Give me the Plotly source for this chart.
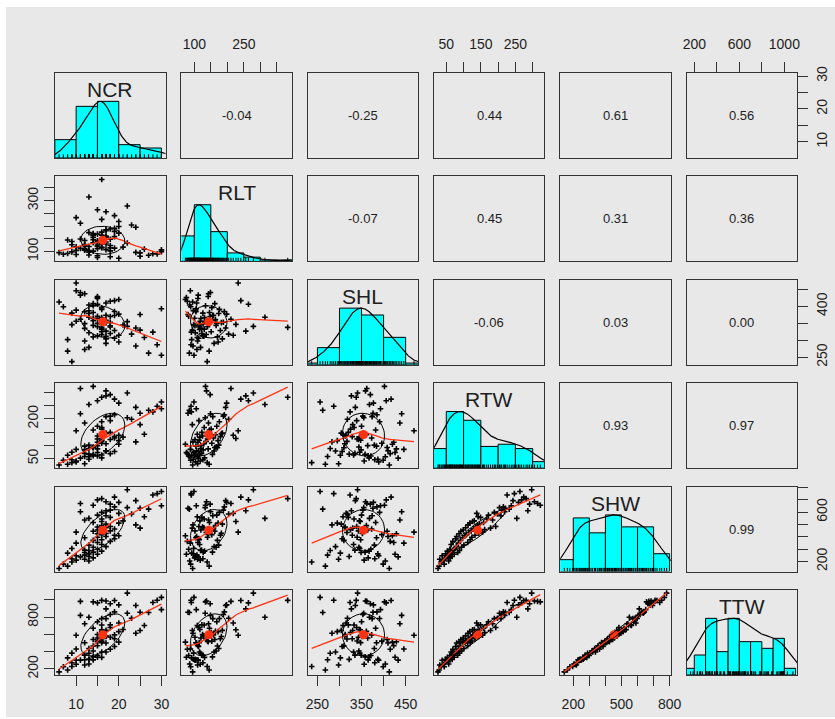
import numpy as np
import plotly.graph_objects as go

# ---------------------------------------------------------------
# Observations (one entry per plant) for the six measured traits
# ---------------------------------------------------------------
NCR = [6, 8, 7, 9, 13, 10, 12, 9, 14, 11,
       13, 10, 12, 15, 13, 8, 12, 14, 16, 13,
       12, 15, 9, 14, 17, 13, 16, 10, 15, 18,
       14, 16, 19, 12, 15, 17, 20, 19, 16, 15,
       17, 16, 10, 14, 18, 15, 16, 19, 25, 17,
       15, 18, 16, 24, 17, 20, 14, 16, 21, 12,
       16, 13, 18, 26, 17, 15, 23, 20, 16, 11,
       17, 18, 27, 25, 22, 19, 30, 14, 18, 11,
       20, 17, 24, 15, 16, 19, 28, 29, 30, 22]

RLT = [95, 145, 89, 139, 86, 118, 110, 126, 101, 112,
       103, 104, 108, 76, 97, 92, 127, 155, 131, 119,
       122, 83, 98, 166, 160, 174, 116, 88, 111, 79,
       170, 115, 113, 105, 140, 107, 73, 179, 153, 142,
       182, 136, 233, 162, 102, 120, 151, 158, 94, 129,
       125, 114, 164, 96, 185, 172, 146, 226, 117, 143,
       130, 314, 123, 109, 156, 168, 204, 218, 176, 149,
       256, 188, 85, 81, 133, 191, 106, 134, 148, 211,
       198, 137, 195, 264, 383, 241, 91, 90, 99, 279]

SHL = [413, 268, 399, 237, 404, 356, 298, 380, 365, 433,
       322, 389, 273, 426, 387, 302, 349, 358, 367, 279,
       335, 371, 346, 344, 291, 379, 332, 446, 423, 415,
       310, 348, 306, 384, 340, 410, 420, 329, 396, 429,
       352, 317, 469, 408, 343, 364, 325, 373, 330, 312,
       313, 339, 361, 283, 304, 295, 382, 347, 345, 437,
       333, 368, 320, 308, 374, 350, 318, 315, 391, 441,
       327, 353, 262, 376, 355, 385, 393, 402, 370, 362,
       377, 359, 336, 406, 338, 417, 324, 287, 256, 341]

RTW = [26, 29, 44, 35, 57, 41, 31, 46, 61, 52,
       67, 38, 58, 73, 48, 63, 83, 66, 53, 88,
       70, 60, 74, 94, 79, 101, 64, 85, 112, 69,
       91, 119, 77, 97, 124, 80, 104, 133, 108, 87,
       144, 115, 155, 92, 122, 99, 161, 128, 178, 106,
       135, 193, 140, 113, 146, 118, 158, 126, 131, 184,
       167, 254, 149, 142, 208, 172, 198, 138, 189, 219,
       286, 210, 232, 221, 204, 215, 238, 322, 291, 314,
       259, 305, 243, 268, 281, 274, 226, 247, 263, 297]

SHW = [144, 163, 179, 196, 204, 211, 219, 223, 230, 238,
       241, 247, 252, 259, 262, 268, 273, 276, 284, 289,
       292, 299, 305, 316, 321, 333, 338, 349, 354, 363,
       371, 376, 385, 392, 397, 402, 409, 413, 418, 425,
       428, 435, 438, 445, 448, 455, 458, 463, 470, 473,
       480, 484, 491, 497, 503, 511, 516, 524, 529, 536,
       544, 549, 557, 562, 571, 576, 585, 590, 598, 603,
       611, 616, 624, 631, 636, 642, 651, 656, 665, 670,
       679, 684, 693, 699, 709, 721, 738, 750, 767, 781]

TTW = [167, 189, 226, 229, 258, 255, 247, 272, 305, 303,
       311, 301, 307, 335, 313, 328, 359, 340, 334, 381,
       360, 356, 383, 407, 396, 437, 397, 431, 469, 428,
       465, 504, 459, 503, 524, 501, 510, 549, 522, 515,
       575, 547, 590, 540, 567, 558, 622, 594, 645, 582,
       598, 680, 634, 613, 646, 632, 671, 653, 657, 723,
       708, 798, 709, 702, 782, 745, 786, 731, 784, 819,
       894, 829, 853, 856, 843, 860, 886, 975, 953, 981,
       941, 986, 933, 964, 993, 991, 968, 994, 1027, 1076]

var_names = ["NCR", "RLT", "SHL", "RTW", "SHW", "TTW"]

# Pearson correlations for the upper triangle, in order (0,1),(0,2),...,(4,5)
cor_values = [-0.04, -0.25, 0.44, 0.61, 0.56,
              -0.07, 0.45, 0.31, 0.36,
              -0.06, 0.03, 0.00,
              0.93, 0.97,
              0.99]

# Tick positions per variable and the labels printed on each outer side
tick_vals = {
    "NCR": [10, 15, 20, 25, 30],
    "RLT": [100, 150, 200, 250, 300, 350],
    "SHL": [250, 300, 350, 400, 450],
    "RTW": [50, 100, 150, 200, 250, 300],
    "SHW": [200, 300, 400, 500, 600, 700, 800],
    "TTW": [200, 400, 600, 800, 1000],
}
top_labels = {
    "RLT": ["100", "", "", "250", "", ""],
    "RTW": ["50", "", "150", "", "250", ""],
    "TTW": ["200", "", "600", "", "1000"],
}
bottom_labels = {
    "NCR": ["10", "", "20", "", "30"],
    "SHL": ["250", "", "350", "", "450"],
    "SHW": ["200", "", "", "500", "", "", "800"],
}
left_labels = {
    "RLT": ["100", "", "", "", "300", ""],
    "RTW": ["50", "", "", "200", "", ""],
    "TTW": ["200", "", "", "800", ""],
}
right_labels = {
    "NCR": ["10", "", "20", "", "30"],
    "SHL": ["250", "", "", "400", ""],
    "SHW": ["200", "", "", "", "600", "", ""],
}


# ---------------------------------------------------------------
# Statistics helpers (R-style pretty breaks, lowess, density)
# ---------------------------------------------------------------
def pretty_breaks(lo, hi, n):
    h, h5 = 1.5, 0.5 + 1.5 * 1.5
    cell = (hi - lo) / n
    base = 10 ** np.floor(np.log10(cell))
    unit = base
    if 2 * base - cell < h * (cell - unit):
        unit = 2 * base
        if 5 * base - cell < h5 * (cell - unit):
            unit = 5 * base
            if 10 * base - cell < h * (cell - unit):
                unit = 10 * base
    ns = np.floor(lo / unit + 1e-7)
    nu = np.ceil(hi / unit - 1e-7)
    return np.arange(ns, nu + 1) * unit


def hist_counts(x, breaks):
    idx = np.searchsorted(breaks, x, side="left") - 1
    idx = np.clip(idx, 0, len(breaks) - 2)
    return np.bincount(idx, minlength=len(breaks) - 1)


def lowess(x, y, f=2 / 3, iters=3):
    o = np.argsort(x, kind="mergesort")
    x = np.asarray(x, float)[o]
    y = np.asarray(y, float)[o]
    n = len(x)
    ns = max(min(int(f * n + 1e-7), n), 2)
    rng = x[-1] - x[0]
    delta = 0.01 * rng
    ys = np.zeros(n)
    rw = np.ones(n)
    for it in range(iters + 1):
        nleft, nright, last, i = 0, ns - 1, -1, 0
        while True:
            if nright < n - 1:
                if x[i] - x[nleft] > x[nright + 1] - x[i]:
                    nleft += 1
                    nright += 1
                    continue
            xs = x[i]
            h = max(xs - x[nleft], x[nright] - xs)
            h9, h1 = 0.999 * h, 0.001 * h
            w = np.zeros(n)
            a = 0.0
            j = nleft
            while j < n:
                r = abs(x[j] - xs)
                if r <= h9:
                    w[j] = 1.0 if r <= h1 else (1 - (r / h) ** 3) ** 3
                    if it > 0:
                        w[j] *= rw[j]
                    a += w[j]
                elif x[j] > xs:
                    break
                j += 1
            nrt = j - 1
            if a <= 0:
                ys[i] = y[i]
            else:
                sl = slice(nleft, nrt + 1)
                w[sl] /= a
                if h > 0:
                    aa = np.sum(w[sl] * x[sl])
                    b = xs - aa
                    c = np.sum(w[sl] * (x[sl] - aa) ** 2)
                    if np.sqrt(c) > 0.001 * rng:
                        b /= c
                        w[sl] *= b * (x[sl] - aa) + 1
                ys[i] = np.sum(w[sl] * y[sl])
            if last < i - 1:
                denom = x[i] - x[last]
                for jj in range(last + 1, i):
                    alpha = (x[jj] - x[last]) / denom
                    ys[jj] = alpha * ys[i] + (1 - alpha) * ys[last]
            last = i
            cut = x[last] + delta
            i = last + 1
            while i < n:
                if x[i] > cut:
                    break
                if x[i] == x[last]:
                    ys[i] = ys[last]
                    last = i
                i += 1
            i = max(last + 1, i - 1)
            if last >= n - 1:
                break
        res = y - ys
        if it >= iters:
            break
        ar = np.abs(res)
        cmad = 6 * np.median(ar)
        if cmad < 1e-7 * np.mean(np.abs(y)):
            break
        c9, c1 = 0.999 * cmad, 0.001 * cmad
        rw = np.where(ar <= c1, 1.0,
                      np.where(ar <= c9, (1 - (ar / cmad) ** 2) ** 2, 0.0))
    return x, ys


def density_curve(x):
    n = len(x)
    q1, q3 = np.percentile(x, [25, 75])
    bw = 1.06 * min(np.std(x, ddof=1), (q3 - q1) / 1.34) * n ** (-0.2)
    grid = np.linspace(x.min() - 3 * bw, x.max() + 3 * bw, 512)
    dens = np.exp(-0.5 * ((grid[:, None] - x[None, :]) / bw) ** 2).sum(axis=1)
    return grid, dens / dens.max()


def ellipse_path(xm, ym, xs, ys, r, segments=51):
    ang = np.arange(segments + 1) * 2 * np.pi / segments
    th = np.sign(r) / np.sqrt(2) if abs(r) > 0 else 1 / np.sqrt(2)
    a, b = np.sqrt(1 + r), np.sqrt(1 - r)
    ex = np.cos(ang) * a * th - np.sin(ang) * b * th
    ey = np.cos(ang) * a * th + np.sin(ang) * b * th
    return ex * xs + xm, ey * ys + ym


# ---------------------------------------------------------------
# Figure
# ---------------------------------------------------------------
data = [np.asarray(v, float) for v in (NCR, RLT, SHL, RTW, SHW, TTW)]
nvar = len(data)
nobs = len(data[0])
ranges = []
for d in data:
    pad = 0.04 * (d.max() - d.min())
    ranges.append([d.min() - pad, d.max() + pad])

cor = np.eye(nvar)
k = 0
for i in range(nvar):
    for j in range(i + 1, nvar):
        cor[i, j] = cor[j, i] = cor_values[k]
        k += 1

W, H = 835, 719
col_left = [55 + 126.3 * j for j in range(nvar)]
row_top = [73 + 103.4 * i for i in range(nvar)]
PW, PH = 110.5, 85

AX_COL = "#333333"
FONT = "Liberation Sans, Arial, Helvetica, sans-serif"
TICK_FONT = dict(family=FONT, size=14, color="#1e1e1e")
RED = "#ff3311"
CYAN = "#00ffff"

fig = go.Figure()
layout = {}
annotations = []
nbins = int(np.ceil(np.log2(nobs) + 1))

standoff = {"top": 7, "bottom": 6, "left": 0, "right": 2}


def tick_setup(name, labels, side, is_y):
    d = dict(ticks="outside", ticklen=10, tickwidth=1.2, tickcolor=AX_COL,
             tickmode="array", tickvals=tick_vals[name], ticktext=labels,
             showticklabels=True, tickfont=TICK_FONT, side=side,
             ticklabelstandoff=standoff[side])
    if is_y:
        d["tickangle"] = -90
    return d


for i in range(nvar):
    for j in range(nvar):
        idx = i * nvar + j + 1
        sfx = "" if idx == 1 else str(idx)
        xref, yref = "x" + sfx, "y" + sfx
        x0 = col_left[j] / W
        x1 = (col_left[j] + PW) / W
        y1 = 1 - row_top[i] / H
        y0 = 1 - (row_top[i] + PH) / H
        yr = [0, 1.5] if i == j else ranges[i]
        xa = dict(domain=[x0, x1], range=ranges[j], anchor=yref,
                  showgrid=False, zeroline=False, showline=True, mirror=True,
                  linecolor=AX_COL, linewidth=1.3, ticks="", automargin=False,
                  showticklabels=False, fixedrange=True)
        ya = dict(domain=[y0, y1], range=yr, anchor=xref,
                  showgrid=False, zeroline=False, showline=True, mirror=True,
                  linecolor=AX_COL, linewidth=1.3, ticks="", automargin=False,
                  showticklabels=False, fixedrange=True)
        xn, yn = var_names[j], var_names[i]
        if i == 0 and xn in top_labels:
            xa.update(tick_setup(xn, top_labels[xn], "top", False))
        if i == nvar - 1 and xn in bottom_labels:
            xa.update(tick_setup(xn, bottom_labels[xn], "bottom", False))
        if j == 0 and yn in left_labels:
            ya.update(tick_setup(yn, left_labels[yn], "left", True))
        if j == nvar - 1 and yn in right_labels:
            ya.update(tick_setup(yn, right_labels[yn], "right", True))
        layout["xaxis" + sfx] = xa
        layout["yaxis" + sfx] = ya

        if i == j:
            d = data[i]
            br = pretty_breaks(d.min(), d.max(), nbins)
            cnt = hist_counts(d, br)
            fig.add_trace(go.Bar(
                x=(br[:-1] + br[1:]) / 2, y=cnt / cnt.max(), width=np.diff(br),
                marker=dict(color=CYAN, line=dict(color="black", width=1)),
                xaxis=xref, yaxis=yref))
            gx, gy = density_curve(d)
            fig.add_trace(go.Scatter(
                x=gx, y=gy, mode="lines", line=dict(color="black", width=1.2),
                xaxis=xref, yaxis=yref))
            rx, ry = [], []
            for v in d:
                rx += [v, v, None]
                ry += [0, 0.065, None]
            fig.add_trace(go.Scatter(
                x=rx, y=ry, mode="lines", line=dict(color="black", width=1),
                xaxis=xref, yaxis=yref))
            annotations.append(dict(
                x=sum(ranges[j]) / 2, y=1.21, xref=xref, yref=yref,
                text=var_names[i], showarrow=False, xanchor="center",
                yanchor="middle", font=dict(family=FONT, size=21, color="#202020")))
        elif i > j:
            xd, yd = data[j], data[i]
            fig.add_trace(go.Scatter(
                x=xd, y=yd, mode="markers",
                marker=dict(symbol="cross-thin", size=4, color="black",
                            line=dict(color="black", width=1.6)),
                xaxis=xref, yaxis=yref))
            lx, ly = lowess(xd, yd)
            fig.add_trace(go.Scatter(
                x=lx, y=ly, mode="lines", line=dict(color=RED, width=1.3),
                xaxis=xref, yaxis=yref))
            xm, ym = xd.mean(), yd.mean()
            fig.add_trace(go.Scatter(
                x=[xm], y=[ym], mode="markers",
                marker=dict(symbol="circle", size=9, color=RED),
                xaxis=xref, yaxis=yref))
            ex, ey = ellipse_path(xm, ym, xd.std(ddof=1), yd.std(ddof=1), cor[i, j])
            fig.add_trace(go.Scatter(
                x=ex, y=ey, mode="lines", line=dict(color="black", width=1),
                xaxis=xref, yaxis=yref))
        else:
            annotations.append(dict(
                x=sum(ranges[j]) / 2, y=sum(ranges[i]) / 2, xref=xref, yref=yref,
                text=f"{cor[i, j]:.2f}", showarrow=False, xanchor="center",
                yanchor="middle", font=dict(family=FONT, size=13, color="#1e1e1e")))

layout.update(
    width=W, height=H,
    margin=dict(l=0, r=0, t=0, b=0, pad=0, autoexpand=False),
    paper_bgcolor="white",
    plot_bgcolor="rgba(0,0,0,0)",
    showlegend=False,
    hovermode=False,
    barmode="overlay",
    annotations=annotations,
    shapes=[dict(type="rect", xref="paper", yref="paper",
                 x0=6 / W, x1=1.0, y0=1 - 717 / H, y1=1 - 7 / H,
                 fillcolor="#e8e8e8", line=dict(width=0), layer="below")],
)
fig.update_layout(**layout)
fig.write_html("out.html")
